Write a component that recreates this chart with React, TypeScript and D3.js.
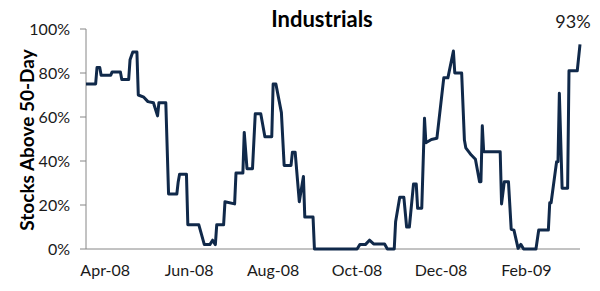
import React from "react";
import * as d3 from "d3";

const dates: string[] = [
  "2008-03-18","2008-03-25","2008-03-26","2008-03-28","2008-03-29","2008-04-05","2008-04-06","2008-04-12",
  "2008-04-13","2008-04-18","2008-04-19","2008-04-21","2008-04-24","2008-04-25","2008-04-29","2008-05-02",
  "2008-05-06","2008-05-09","2008-05-10","2008-05-15","2008-05-17","2008-05-23","2008-05-24","2008-05-25",
  "2008-05-30","2008-05-31","2008-06-08","2008-06-12","2008-06-16","2008-06-18","2008-06-20","2008-06-21",
  "2008-06-26","2008-06-27","2008-07-04","2008-07-05","2008-07-10","2008-07-11","2008-07-13","2008-07-17",
  "2008-07-19","2008-07-23","2008-07-26","2008-07-31","2008-08-01","2008-08-03","2008-08-07","2008-08-09",
  "2008-08-14","2008-08-15","2008-08-17","2008-08-20","2008-08-23","2008-08-24","2008-08-30","2008-08-31",
  "2008-10-01","2008-10-03","2008-10-07","2008-10-10","2008-10-13","2008-10-21","2008-10-23","2008-10-28",
  "2008-10-29","2008-11-01","2008-11-04","2008-11-06","2008-11-08","2008-11-11","2008-11-13","2008-11-14",
  "2008-11-17","2008-11-19","2008-11-20","2008-11-24","2008-11-28","2008-12-03","2008-12-06","2008-12-10",
  "2008-12-11","2008-12-16","2008-12-18","2008-12-19","2008-12-23","2008-12-26","2008-12-29","2008-12-30",
  "2008-12-31","2009-01-01","2009-01-13","2009-01-14","2009-01-16","2009-01-19","2009-01-21","2009-01-23",
  "2009-01-26","2009-01-28","2009-01-30","2009-02-08","2009-02-10","2009-02-17","2009-02-18","2009-02-19",
  "2009-02-23","2009-02-24","2009-02-25","2009-02-27","2009-03-03","2009-03-04","2009-03-10","2009-03-12",
];

const values: number[] = [
  75, 75, 82.5, 82.5, 79, 79, 80.5, 80.5,
  77, 77, 86, 89.5, 89.5, 70, 69, 67,
  66.5, 60.5, 66.5, 66.5, 25, 25, 30.5, 34,
  34, 11, 11, 2, 2, 4, 2, 11,
  11, 21.5, 20.5, 34.5, 34.5, 53, 36.5, 36.5,
  61.5, 61.5, 51, 51, 75, 75, 62, 38,
  38, 44, 44, 21.5, 33, 14.5, 14.5, 0,
  0, 2, 2, 4, 2.3, 2.3, 0, 0,
  12.4, 23.5, 23.5, 10, 10, 29.5, 29.5, 18.5,
  18.5, 59.4, 48.3, 49.8, 50.3, 77.8, 77.8, 90,
  80, 80, 49.5, 46, 42.7, 40.8, 30.6, 30.6,
  56, 44.2, 44.2, 20.5, 30.6, 30.6, 9, 8.6,
  0.3, 2.1, 0, 0, 8.6, 8.6, 21, 21,
  39.7, 39.7, 70.8, 27.6, 27.6, 81, 81, 93,
];

const yTicks: number[] = [0, 20, 40, 60, 80, 100];
const xTickDates: string[] = ["2008-04-01", "2008-06-01", "2008-08-01", "2008-10-01", "2008-12-01", "2009-02-01"];
const title = "Industrials";
const yLabel = "Stocks Above 50-Day";
const lastLabel = "93%";

const W = 600, H = 291;
const FONT = "Lato, 'Open Sans', sans-serif";

export default function App() {
  const parse = d3.timeParse("%Y-%m-%d");
  const data = dates.map((d, i) => ({ date: parse(d) as Date, value: values[i] }));
  const x = d3.scaleTime()
    .domain([parse("2008-03-18") as Date, parse("2009-03-12") as Date])
    .range([86, 580]);
  const y = d3.scaleLinear().domain([0, 100]).range([249, 29]);
  const line = d3.line<{ date: Date; value: number }>()
    .x(d => x(d.date))
    .y(d => y(d.value))
    .curve(d3.curveLinear);
  const fmt = d3.timeFormat("%b-%y");
  const last = data[data.length - 1];

  return (
    <svg width={W} height={H} style={{ position: "absolute", left: 0, top: 0, background: "#fff" }}
      fontFamily={FONT}>
      <text x={322} y={27} textAnchor="middle" fontSize={22} fontWeight="bold" fill="#000">{title}</text>
      <text transform={`translate(34,140) rotate(-90)`} textAnchor="middle" fontSize={19}
        fontWeight="bold" fill="#000">{yLabel}</text>
      <line x1={86} x2={86} y1={y(100)} y2={y(0)} stroke="#868686" strokeWidth={1} />
      {yTicks.map(t => (
        <g key={t}>
          <line x1={80} x2={86} y1={y(t)} y2={y(t)} stroke="#868686" strokeWidth={1} />
          <text x={70} y={y(t)} dy="0.35em" textAnchor="end" fontSize={16} fill="#1a1a1a">{t}%</text>
        </g>
      ))}
      <line x1={86} x2={580} y1={y(0)} y2={y(0)} stroke="#868686" strokeWidth={1} />
      {xTickDates.map(d => {
        const dt = parse(d) as Date;
        return (
          <text key={d} x={x(dt)} y={276} textAnchor="middle" fontSize={16} fill="#1a1a1a">{fmt(dt)}</text>
        );
      })}
      <path d={line(data) || ""} fill="none" stroke="#10294a" strokeWidth={3} strokeLinejoin="round" />
      <text x={x(last.date) - 7} y={28} textAnchor="middle" fontSize={18} fill="#1a1a1a">{lastLabel}</text>
    </svg>
  );
}
